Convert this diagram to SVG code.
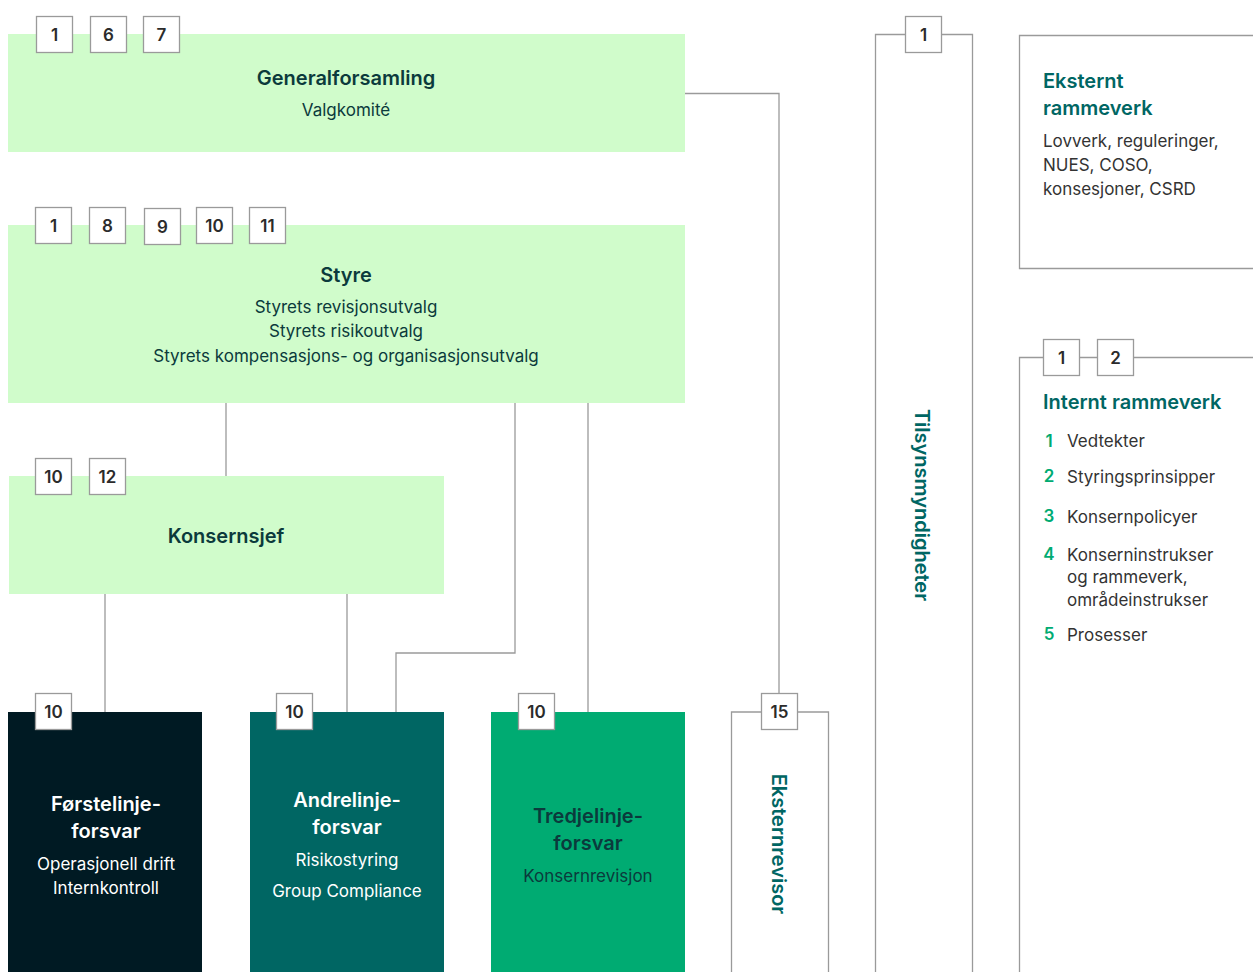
<svg xmlns="http://www.w3.org/2000/svg" width="1253" height="972" viewBox="0 0 1253 972">
<style>
.lt{fill:#d0fccb}
.bd rect{fill:#fff;stroke:#9a9a9a;stroke-width:1.3}
.bd text{font-family:Inter,"Noto Sans",sans-serif;font-weight:600;font-size:17px;fill:#2b2b2b;text-anchor:middle}
.cn{fill:none;stroke:#9a9a9a;stroke-width:1.3}
.fr{fill:none;stroke:#9a9a9a;stroke-width:1.3}
.t{font-family:Inter,"Noto Sans",sans-serif;text-anchor:middle}
.h{font-weight:600;font-size:20px}
.s{font-size:17px}
.dk{fill:#0b3a3c}
.wh{fill:#fff}
.tl{fill:#006663}
.gr{fill:#333}
.num{fill:#00ab72;font-weight:600}
.l{font-family:Inter,"Noto Sans",sans-serif}
</style>

<g id="connectors">
<path class="cn" d="M685,93.5H779V694"/>
<path class="cn" d="M226,403V476"/>
<path class="cn" d="M105,594V712"/>
<path class="cn" d="M347,594V712"/>
<path class="cn" d="M515,403V653H396V712"/>
<path class="cn" d="M588,403V712"/>
</g>

<g id="generalforsamling">
<rect class="lt" x="8" y="34" width="677" height="118"/>
<text class="t h dk" x="346" y="85">Generalforsamling</text>
<text class="t s dk" x="346" y="116">Valgkomité</text>
<g class="bd">
<rect x="36.5" y="16.5" width="36" height="36"/><text x="54.5" y="41">1</text>
<rect x="90.5" y="16.5" width="36" height="36"/><text x="108.5" y="41">6</text>
<rect x="143.5" y="16.5" width="36" height="36"/><text x="161.5" y="41">7</text>
</g>
</g>

<g id="styre">
<rect class="lt" x="8" y="225" width="677" height="178"/>
<text class="t h dk" x="346" y="282">Styre</text>
<text class="t s dk" x="346" y="313">Styrets revisjonsutvalg</text>
<text class="t s dk" x="346" y="337">Styrets risikoutvalg</text>
<text class="t s dk" x="346" y="362">Styrets kompensasjons- og organisasjonsutvalg</text>
<g class="bd">
<rect x="35.5" y="207.5" width="36" height="36"/><text x="53.5" y="232">1</text>
<rect x="89.5" y="207.5" width="36" height="36"/><text x="107.5" y="232">8</text>
<rect x="144.5" y="208.5" width="36" height="36"/><text x="162.5" y="233">9</text>
<rect x="196.5" y="207.5" width="36" height="36"/><text x="214.5" y="232">10</text>
<rect x="249.5" y="207.5" width="36" height="36"/><text x="267.5" y="232">11</text>
</g>
</g>

<g id="konsernsjef">
<rect class="lt" x="9" y="476" width="435" height="118"/>
<text class="t h dk" x="226" y="543">Konsernsjef</text>
<g class="bd">
<rect x="35.5" y="458.5" width="36" height="36"/><text x="53.5" y="483">10</text>
<rect x="89.5" y="458.5" width="36" height="36"/><text x="107.5" y="483">12</text>
</g>
</g>

<g id="forstelinje">
<rect x="8" y="712" width="194" height="260" fill="#001a23"/>
<text class="t h wh" x="106" y="811">Førstelinje-</text>
<text class="t h wh" x="106" y="838">forsvar</text>
<text class="t s wh" x="106" y="870">Operasjonell drift</text>
<text class="t s wh" x="106" y="894">Internkontroll</text>
<g class="bd"><rect x="35.5" y="693.5" width="36" height="36"/><text x="53.5" y="718">10</text></g>
</g>

<g id="andrelinje">
<rect x="250" y="712" width="194" height="260" fill="#006663"/>
<text class="t h wh" x="347" y="807">Andrelinje-</text>
<text class="t h wh" x="347" y="834">forsvar</text>
<text class="t s wh" x="347" y="866">Risikostyring</text>
<text class="t s wh" x="347" y="897">Group Compliance</text>
<g class="bd"><rect x="276.5" y="693.5" width="36" height="36"/><text x="294.5" y="718">10</text></g>
</g>

<g id="tredjelinje">
<rect x="491" y="712" width="194" height="260" fill="#00ab72"/>
<text class="t h dk" x="588" y="823">Tredjelinje-</text>
<text class="t h dk" x="588" y="850">forsvar</text>
<text class="t s dk" x="588" y="882">Konsernrevisjon</text>
<g class="bd"><rect x="518.5" y="693.5" width="36" height="36"/><text x="536.5" y="718">10</text></g>
</g>

<g id="eksternrevisor">
<path class="fr" d="M761,712H731.5V972M797,712H828.5V972"/>
<text class="t h tl" transform="translate(772,844) rotate(90)">Eksternrevisor</text>
<g class="bd"><rect x="761.5" y="693.5" width="36" height="36"/><text x="779.5" y="718">15</text></g>
</g>

<g id="tilsynsmyndigheter">
<path class="fr" d="M905,34.5H875.5V972M941,34.5H972.5V972"/>
<text class="t h tl" transform="translate(915,505) rotate(90)">Tilsynsmyndigheter</text>
<g class="bd"><rect x="905.5" y="16.5" width="36" height="36"/><text x="923.5" y="41">1</text></g>
</g>

<g id="eksternt-rammeverk">
<path class="fr" d="M1253,35.5H1019.5V268.5H1253"/>
<text class="l h tl" x="1043" y="88">Eksternt</text>
<text class="l h tl" x="1043" y="115">rammeverk</text>
<text class="l s gr" x="1043" y="147">Lovverk, reguleringer,</text>
<text class="l s gr" x="1043" y="171">NUES, COSO,</text>
<text class="l s gr" x="1043" y="195">konsesjoner, CSRD</text>
</g>

<g id="internt-rammeverk">
<path class="fr" d="M1043,357.5H1019.5V972M1079,357.5H1097M1133,357.5H1253"/>
<g class="bd">
<rect x="1043.5" y="339.5" width="36" height="36"/><text x="1061.5" y="364">1</text>
<rect x="1097.5" y="339.5" width="36" height="36"/><text x="1115.5" y="364">2</text>
</g>
<text class="l h tl" x="1043" y="409">Internt rammeverk</text>
<g class="l s">
<text class="num" x="1049" y="447" text-anchor="middle">1</text><text class="gr" x="1067" y="447">Vedtekter</text>
<text class="num" x="1049" y="482" text-anchor="middle">2</text><text class="gr" x="1067" y="483">Styringsprinsipper</text>
<text class="num" x="1049" y="522" text-anchor="middle">3</text><text class="gr" x="1067" y="523">Konsernpolicyer</text>
<text class="num" x="1049" y="560" text-anchor="middle">4</text><text class="gr" x="1067" y="561">Konserninstrukser</text>
<text class="gr" x="1067" y="583">og rammeverk,</text>
<text class="gr" x="1067" y="606">områdeinstrukser</text>
<text class="num" x="1049" y="640" text-anchor="middle">5</text><text class="gr" x="1067" y="641">Prosesser</text>
</g>
</g>
</svg>
